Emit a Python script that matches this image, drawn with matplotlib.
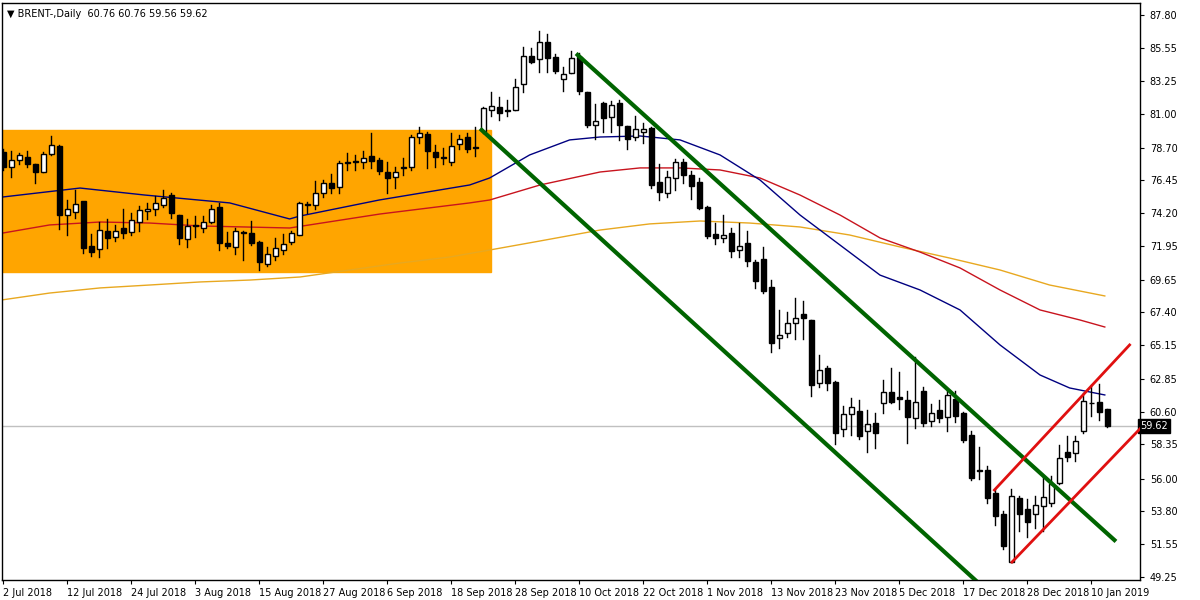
import matplotlib
matplotlib.use("Agg")
import matplotlib.pyplot as plt
from matplotlib.patches import Rectangle

opens = [78.43,77.35,77.86,78.09,77.58,77.06,78.25,78.82,74.08,74.27,75.04,71.96,71.73,72.99,72.60,73.22,72.90,73.63,74.36,74.47,
         74.77,75.46,74.08,72.42,73.35,73.17,73.63,74.61,72.15,71.91,72.90,72.83,72.21,70.70,71.30,71.70,72.21,72.71,74.77,74.77,
         75.62,76.30,76.03,77.65,77.70,77.70,78.15,77.86,77.00,76.67,77.28,77.36,79.41,79.62,78.38,77.97,77.70,78.93,79.41,78.66,
         79.85,81.30,81.47,81.24,81.29,83.05,84.99,84.76,85.93,84.90,83.39,83.85,84.90,82.54,80.26,81.79,80.83,81.74,80.19,79.41,
         79.80,80.03,76.32,75.57,76.60,77.69,76.83,76.37,74.65,72.76,72.53,72.83,71.68,72.14,70.84,71.04,69.17,65.62,66.01,66.70,
         67.27,66.88,62.58,63.61,62.60,59.38,60.43,60.64,59.29,59.84,61.17,61.92,61.60,61.39,60.13,62.01,59.97,60.70,60.25,61.46,
         60.52,58.99,56.57,56.59,54.99,53.57,50.30,54.65,53.92,53.55,54.15,54.30,55.67,57.80,57.73,59.26,61.16,61.23,60.76]
closes = [77.40,77.86,78.20,77.56,77.06,78.25,78.90,74.08,74.50,74.84,71.80,71.57,73.06,72.53,72.99,72.87,73.74,74.43,74.50,74.88,
          75.27,74.20,72.53,73.35,73.33,73.63,74.47,72.19,71.96,72.99,72.87,72.15,70.84,71.39,71.80,72.07,72.83,74.88,74.80,75.60,
          76.26,75.90,77.63,77.70,77.70,77.97,77.81,77.13,76.60,77.00,77.30,79.46,79.69,78.47,78.09,77.97,78.84,79.28,78.61,78.66,
          81.40,81.56,81.10,81.24,82.84,84.99,84.60,85.97,84.88,83.96,83.74,84.83,82.61,80.26,80.53,80.76,81.63,80.26,79.27,79.96,
          79.96,76.14,75.68,76.71,77.69,76.83,76.07,74.59,72.64,72.53,72.71,71.64,71.98,70.95,69.58,68.89,65.33,65.85,66.65,67.00,
          67.00,62.42,63.45,62.54,59.15,60.43,60.89,58.93,59.75,59.15,61.92,61.28,61.45,60.25,61.28,59.79,60.48,60.18,61.73,60.32,
          58.65,56.06,56.54,54.69,53.46,51.38,54.83,53.57,53.05,54.19,54.76,55.63,57.39,57.50,58.60,61.34,61.16,60.55,59.62]
highs = [78.6,78.5,78.3,78.5,77.6,78.4,79.5,78.9,75.1,75.8,75.0,72.8,73.6,73.8,73.4,74.5,74.2,74.7,74.9,75.4,
         75.8,75.6,74.1,73.8,74.0,74.0,74.8,74.9,72.9,73.2,73.0,73.7,72.3,71.9,72.5,72.8,73.0,75.0,75.0,76.4,
         76.5,76.9,77.8,78.3,78.2,78.5,79.7,78.0,77.7,77.4,78.0,79.6,80.1,79.8,78.9,78.7,79.7,79.6,79.7,80.1,
         81.5,82.5,82.2,82.0,83.4,85.6,85.5,86.7,86.5,85.1,84.2,85.3,85.2,82.5,81.7,81.8,81.9,81.97,80.2,80.9,
         80.4,80.1,77.6,77.1,77.9,77.9,77.1,76.6,74.7,73.5,74.1,73.2,73.5,73.0,71.0,71.9,69.6,67.6,67.4,68.4,
         68.2,66.9,64.5,63.7,62.7,61.0,61.5,61.4,60.7,60.5,62.8,63.6,63.3,62.0,64.36,62.3,61.1,61.4,62.0,62.0,
         60.6,59.3,58.2,56.9,55.3,53.8,55.3,54.8,54.6,54.8,56.1,56.2,58.3,58.9,58.9,61.9,62.4,62.5,60.76]
lows = [77.2,76.7,77.6,77.4,76.3,77.0,78.2,73.1,72.7,73.9,71.5,71.3,71.2,71.8,72.3,72.5,72.7,73.0,73.8,74.1,
        74.6,73.9,72.1,71.9,72.6,72.9,73.5,71.7,71.8,71.4,71.0,72.0,70.3,70.6,71.0,71.4,72.1,72.7,74.2,74.5,
        75.3,75.6,75.6,77.2,77.2,77.3,77.3,76.9,75.6,75.9,76.8,77.2,79.0,77.3,77.4,77.6,77.5,78.6,78.4,78.1,
        79.7,80.9,80.6,80.9,81.3,82.5,84.5,83.9,83.9,83.8,82.6,83.8,82.4,80.1,79.3,79.8,79.8,79.2,78.6,79.2,
        79.0,75.9,75.1,75.3,75.8,76.3,75.2,74.5,72.5,72.1,72.2,71.2,71.2,70.6,69.1,68.7,64.7,64.98,65.7,65.6,
        65.6,61.7,62.3,62.1,58.4,58.9,59.0,58.7,57.8,58.1,60.5,61.2,60.8,58.42,59.5,59.6,59.6,59.9,59.3,59.9,
        58.5,55.9,56.0,54.3,52.8,51.2,50.3,52.4,52.0,52.6,52.4,54.1,55.6,57.2,57.2,59.1,60.3,60.0,59.56]

blue_idx = [0,9.6,17.7,28.3,35.8,37,47,58.3,60.8,65.8,70.8,74.6,79.6,84.6,89.6,94.6,99.6,104.6,109.6,114.6,119.6,124.6,129.6,133.3,137.7]
blue_val = [75.32,75.93,75.45,74.91,73.81,74.0,75.11,76.14,76.62,78.20,79.23,79.43,79.50,79.23,78.20,76.48,74.08,72.02,69.96,68.94,67.57,65.17,63.11,62.22,61.74]
red_idx = [0,5.8,12.1,18.3,24.6,35.8,47.1,58.3,60.8,67.1,74.6,79.6,84.6,89.6,94.6,99.6,104.6,109.6,114.6,119.6,124.6,129.6,134.6,137.7]
red_val = [72.85,73.40,73.60,73.53,73.33,73.19,74.15,74.91,75.11,76.14,77.03,77.31,77.31,77.17,76.62,75.45,74.08,72.51,71.54,70.45,68.94,67.57,66.88,66.40]
orng_idx = [0,5.8,12.1,18.3,24.6,30.8,37.1,43.3,49.6,55.8,60.8,67.1,74.6,80.8,87.1,93.3,99.6,105.8,112.1,118.3,124.6,130.8,137.7]
orng_val = [68.27,68.73,69.08,69.28,69.49,69.62,69.83,70.31,70.79,71.20,71.68,72.30,73.05,73.47,73.67,73.53,73.26,72.71,71.89,71.13,70.31,69.28,68.53]

box_x = [-0.5, 60.95]
box_y = [70.17, 79.91]
green_up = ([71.8, 138.9], [85.06, 51.79])
green_lo = ([59.8, 124.0], [79.91, 47.8])
red_up = ([123.9, 140.8], [55.22, 65.17])
red_lo = ([126.1, 144.6], [50.28, 60.85])

yticks = [87.80,85.55,83.25,81.00,78.70,76.45,74.20,71.95,69.65,67.40,65.15,62.85,60.60,58.35,56.00,53.80,51.55,49.25]
xlabels = ["2 Jul 2018","12 Jul 2018","24 Jul 2018","3 Aug 2018","15 Aug 2018","27 Aug 2018","6 Sep 2018",
           "18 Sep 2018","28 Sep 2018","10 Oct 2018","22 Oct 2018","1 Nov 2018","13 Nov 2018","23 Nov 2018",
           "5 Dec 2018","17 Dec 2018","28 Dec 2018","10 Jan 2019"]
last = 59.62

fig = plt.figure(figsize=(12, 6), dpi=100)
ax = fig.add_axes([2/1200, 20/600, 1138/1200, 577/600])
ax.set_xlim(-0.16, 142.1)
ax.set_ylim(49.05, 88.62)

ax.add_patch(Rectangle((box_x[0], box_y[0]), box_x[1]-box_x[0], box_y[1]-box_y[0], color="#FFA500", zorder=0))
ax.axhline(last, color="#c0c0c0", lw=1, zorder=1)
ax.plot(orng_idx, orng_val, color="#E8A820", lw=1, zorder=2)
ax.plot(red_idx, red_val, color="#C8141E", lw=1, zorder=2)
ax.plot(blue_idx, blue_val, color="#000080", lw=1, zorder=2)

for i, (o, c, h, l) in enumerate(zip(opens, closes, highs, lows)):
    ax.plot([i, i], [l, h], color="black", lw=1, zorder=3)
    bot, top = min(o, c), max(o, c)
    hgt = max(top - bot, 0.06)
    ax.add_patch(Rectangle((i - 0.3, bot), 0.6, hgt, facecolor="white" if c > o else "black",
                           edgecolor="black", lw=1, zorder=4))

ax.plot(*green_up, color="#006400", lw=3, zorder=5)
ax.plot(*green_lo, color="#006400", lw=3, zorder=5)
ax.plot(*red_up, color="#E01010", lw=2, zorder=5)
ax.plot(*red_lo, color="#E01010", lw=2, zorder=5)

ax.yaxis.tick_right()
ax.set_yticks(yticks)
ax.set_yticklabels([f"{v:.2f}" for v in yticks], fontsize=7)
ax.tick_params(axis="y", length=3, pad=4)
ax.set_xticks(range(0, 137, 8))
ax.set_xticklabels(xlabels, fontsize=7, ha="left")
ax.tick_params(axis="x", length=3, pad=3)
for s in ax.spines.values():
    s.set_color("black")
    s.set_linewidth(1)

ax.text(1.0, (last - 49.05) / (88.62 - 49.05), f"{last:.2f}", transform=ax.transAxes, fontsize=7,
        color="white", va="center", ha="left",
        bbox=dict(boxstyle="square,pad=0.2", fc="black", ec="black"))
ax.text(0.004, 0.99, "\u25bc BRENT-,Daily  60.76 60.76 59.56 59.62", transform=ax.transAxes,
        fontsize=7, va="top", ha="left")

fig.savefig("out.png", dpi=100)
